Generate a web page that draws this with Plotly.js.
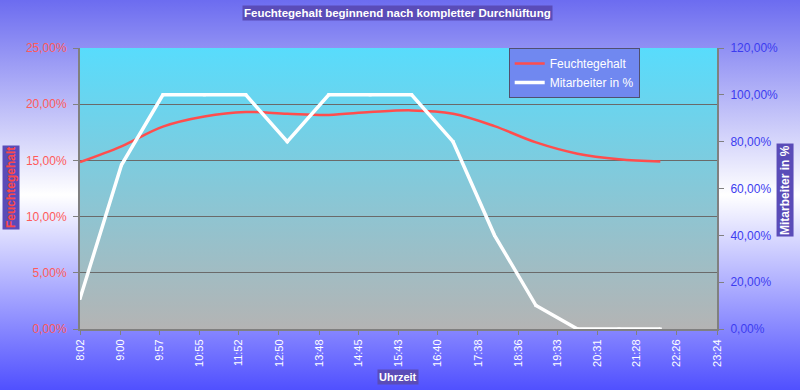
<!DOCTYPE html>
<html>
<head>
<meta charset="utf-8">
<script src="https://cdn.plot.ly/plotly-3.0.1.min.js"></script>
<style>
  html, body { margin: 0; padding: 0; }
  #wrap { position: relative; width: 800px; height: 390px;
    background: linear-gradient(to bottom, #6c6cf0 0%, #ffffff 50%, #5050ff 100%); }
  #plotbg { position: absolute; left: 80px; top: 48px; width: 637px; height: 281px;
    background: linear-gradient(to bottom, #58dcfc 0%, #b4b4b4 100%); }
  #chart { position: absolute; left: 0; top: 0; width: 800px; height: 390px; }
</style>
</head>
<body>
<div id="wrap">
  <div id="plotbg"></div>
  <div id="chart"></div>
</div>
<script>
// Measurement times (hourly)
const times = ["8:02","9:02","10:02","11:02","12:02","13:02","14:02","15:02","16:02","17:02","18:02","19:02","20:02","21:02","22:02"];
// Moisture content in %
const feuchtegehalt = [14.85, 16.25, 18.0, 18.9, 19.3, 19.15, 19.05, 19.3, 19.45, 19.15, 18.05, 16.6, 15.6, 15.1, 14.9];
// Employees present in %
const mitarbeiter = [13, 70, 100, 100, 100, 80, 100, 100, 100, 80, 40, 10, 0, 0, 0];
// X-axis tick labels
const tickLabels = ["8:02","9:00","9:57","10:55","11:52","12:50","13:48","14:45","15:43","16:40","17:38","18:36","19:33","20:31","21:28","22:26","23:24"];

function toMin(s) { const p = s.split(":"); return (+p[0]) * 60 + (+p[1]); }

const xs = times.map(toMin);
const tickVals = tickLabels.map(toMin);
const FONT = "Liberation Sans, Arial, sans-serif";

const traces = [
  {
    x: xs, y: feuchtegehalt.map(v => v / 100),
    name: "Feuchtegehalt", type: "scatter", mode: "lines",
    line: { color: "#ff4d4d", width: 2.5, shape: "spline", smoothing: 1 },
    yaxis: "y", hoverinfo: "skip"
  },
  {
    x: xs, y: mitarbeiter.map(v => v / 100),
    name: "Mitarbeiter in %", type: "scatter", mode: "lines+markers",
    line: { color: "#ffffff", width: 3.5 },
    marker: { color: "#ffffff", size: 3, symbol: "square" },
    yaxis: "y2", hoverinfo: "skip"
  }
];

const layout = {
  width: 800, height: 390,
  margin: { l: 80, r: 83, t: 48, b: 61, pad: 0 },
  paper_bgcolor: "rgba(0,0,0,0)",
  plot_bgcolor: "rgba(0,0,0,0)",
  separators: ",.",
  font: { family: FONT, size: 12, color: "#ffffff" },
  showlegend: true,
  legend: {
    x: 0.673, y: 1, xanchor: "left", yanchor: "top",
    bgcolor: "#7088f0", bordercolor: "#505070", borderwidth: 1,
    font: { family: FONT, size: 12, color: "#ffffff" },
    tracegroupgap: 0
  },
  xaxis: {
    range: [tickVals[0], tickVals[tickVals.length - 1]],
    tickmode: "array", tickvals: tickVals, ticktext: tickLabels,
    tickangle: -90, tickfont: { family: FONT, size: 11, color: "#ffffff" },
    ticks: "outside", ticklen: 4, tickcolor: "#808080",
    showline: true, linecolor: "#808080", linewidth: 2,
    showgrid: false, zeroline: false, fixedrange: true
  },
  yaxis: {
    range: [0, 0.25], dtick: 0.05, tickformat: ".2%",
    tickfont: { family: FONT, size: 12, color: "#ff5a5a" },
    ticks: "outside", ticklen: 5, tickcolor: "#808080",
    ticklabelstandoff: 4,
    showline: true, linecolor: "#808080", linewidth: 2,
    showgrid: true, gridcolor: "#6a6a6a", gridwidth: 1,
    zeroline: false, fixedrange: true
  },
  yaxis2: {
    range: [0, 1.2], dtick: 0.2, tickformat: ".2%",
    overlaying: "y", side: "right",
    tickfont: { family: FONT, size: 12, color: "#3c3cf0" },
    ticks: "outside", ticklen: 5, tickcolor: "#808080",
    ticklabelstandoff: 4,
    showline: true, linecolor: "#808080", linewidth: 2,
    showgrid: false, zeroline: false, fixedrange: true
  },
  annotations: [
    {
      text: "<b>Feuchtegehalt beginnend nach kompletter Durchlüftung</b>",
      xref: "paper", yref: "paper", x: 0.4977, y: 1.1246,
      xanchor: "center", yanchor: "middle", showarrow: false,
      font: { family: FONT, size: 11.5, color: "#ffffff" },
      bgcolor: "#5a4cb8", borderpad: 1
    },
    {
      text: "<b>Feuchtegehalt</b>",
      xref: "paper", yref: "paper", x: -0.1083, y: 0.5018,
      xanchor: "center", yanchor: "middle", showarrow: false, textangle: -90,
      font: { family: FONT, size: 12, color: "#ff4848" },
      bgcolor: "#5a4cb8", borderpad: 1
    },
    {
      text: "<b>Mitarbeiter in %</b>",
      xref: "paper", yref: "paper", x: 1.1068, y: 0.4947,
      xanchor: "center", yanchor: "middle", showarrow: false, textangle: -90,
      font: { family: FONT, size: 12, color: "#ffffff" },
      bgcolor: "#5a4cb8", borderpad: 1
    },
    {
      text: "<b>Uhrzeit</b>",
      xref: "paper", yref: "paper", x: 0.4992, y: -0.1708,
      xanchor: "center", yanchor: "middle", showarrow: false,
      font: { family: FONT, size: 11, color: "#ffffff" },
      bgcolor: "#5a4cb8", borderpad: 1
    }
  ]
};

Plotly.newPlot("chart", traces, layout, { displayModeBar: false, staticPlot: true });
</script>
</body>
</html>
